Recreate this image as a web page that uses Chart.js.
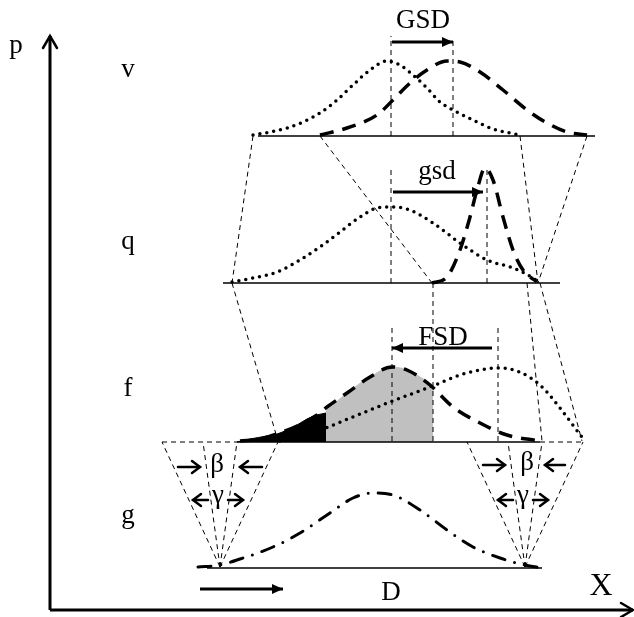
<!DOCTYPE html>
<html>
<head>
<meta charset="utf-8">
<script src="https://cdn.jsdelivr.net/npm/chart.js@4.4.0/dist/chart.umd.min.js"></script>
<style>
    html, body { margin: 0; padding: 0; background: #fff; }
    #my-chart { display: block; }
</style>
</head>
<body>
<canvas id="my-chart" width="634" height="617"></canvas>
<script>
// all values in data units: x along X, y = height above the X axis

// distribution curves
const vDotted = [[203,475],[220,478],[237,482],[253,488],[270,497],[287,510],[303,525],[320,540],[337,549],[350,545],[363,535],[377,522],[390,508],[403,500],[423,490],[443,481],[470,475]];
const vDashed = [[270,475],[297,482],[327,495],[343,510],[360,527],[377,540],[397,549],[410,548],[430,538],[453,520],[477,500],[497,487],[517,478],[537,475]];
const qDotted = [[182,328],[203,332],[227,338],[250,350],[270,363],[290,378],[310,393],[327,402],[340,403],[357,401],[383,387],[410,367],[437,350],[463,342],[483,332],[488,328]];
const qDashed = [[382,327],[397,333],[410,360],[420,393],[427,420],[435,442],[443,430],[453,393],[463,360],[473,340],[487,328]];
const fDashed = [[190,169],[210,171],[227,176],[247,184],[267,195],[277,203],[297,217],[320,233],[342,243],[357,240],[380,225],[403,203],[430,187],[457,175],[490,169]];
const fDotted = [[230,169],[250,173],[278,183],[310,196],[340,208],[380,223],[410,235],[430,240],[447,242],[467,239],[490,225],[510,202],[525,182],[535,169]];
const gDashDot = [[148,43],[170,45],[190,51],[223,63],[250,77],[277,95],[303,112],[323,117],[343,115],[370,100],[397,80],[423,63],[450,52],[475,45],[492,42]];

// shaded areas under f
const blackArea = [[187,168],[200,171],[217,174],[227,176],[237,180],[247,185],[257,191],[267,195],[276,197]];
const grayArea = [[276,199],[297,217],[320,233],[342,243],[357,240],[370,233],[383,225]];
const fLevel = 168;

// panel base lines
const baseLines = [
    [[208,474],[545,474]],
    [[173,327],[510,327]],
    [[187,168],[490,168]],
    [[157,42],[492,42]],
];

// thin dashed guide lines
const guideLines = [
    [[112,168],[187,168]], [[490,168],[535,168]],
    [[341,474],[341,574]], [[403,474],[403,570]],
    [[341,327],[341,442]], [[437,327],[437,443]],
    [[383,169],[383,327]], [[342,169],[342,285]], [[448,169],[448,285]],
    [[203,474],[182,327]], [[270,474],[382,327]], [[470,474],[488,327]], [[537,474],[488,327]],
    [[182,327],[228,169]], [[477,327],[492,169]], [[490,327],[532,169]],
    [[170,43],[112,168]], [[170,43],[153,168]], [[170,43],[187,168]], [[170,43],[228,168]],
    [[475,43],[417,168]], [[475,43],[458,168]], [[475,43],[492,168]], [[475,43],[533,168]],
];

// thick arrows (filled heads)
const bigArrows = [
    [[342,568],[403,568]],
    [[343,418],[433,418]],
    [[442,262],[342,262]],
    [[150,21],[233,21]],
];

// beta / gamma arrows (open heads)
const smallArrows = [
    [[128,143],[150,143]], [[212,143],[190,143]],
    [[158,110],[143,110]], [[178,110],[193,110]],
    [[433,145],[455,145]], [[515,145],[495,145]],
    [[463,110],[448,110]], [[483,110],[498,110]],
];

// main axes
const axes = [
    [[0,0],[0,574]],
    [[0,0],[583,0]],
];

// text labels
const labelTexts = ["p", "v", "q", "f", "g", "GSD", "gsd", "FSD", "β", "β", "γ", "γ", "D", "X"];
const labelX = [-34, 78, 78, 78, 78, 373, 387, 393, 167, 477, 168, 473, 341, 551];
const labelY = [557, 533, 361, 214, 87, 582, 431, 265, 138, 140, 107, 107, 10, 15];

const pts = (arr) => arr.map(([x, y]) => ({ x, y }));

const curveStyle = {
    borderColor: "#000",
    borderWidth: 3.5,
    pointRadius: 0,
    fill: false,
    cubicInterpolationMode: "monotone",
};
const dotted = { ...curveStyle, borderDash: [0, 7], borderCapStyle: "round" };
const dashed = { ...curveStyle, borderDash: [14, 9], borderCapStyle: "butt" };
const dashDot = { ...curveStyle, borderWidth: 3, borderDash: [13, 10, 0, 10], borderCapStyle: "round" };
const straight = { borderColor: "#000", pointRadius: 0, fill: false, tension: 0 };

const datasets = [];
datasets.push({ ...dotted, data: pts(vDotted) });
datasets.push({ ...dashed, data: pts(vDashed) });
datasets.push({ ...dotted, data: pts(qDotted) });
datasets.push({ ...dashed, data: pts(qDashed) });
datasets.push({ ...dashed, data: pts(fDashed) });
datasets.push({ ...dotted, data: pts(fDotted) });
datasets.push({ ...dashDot, data: pts(gDashDot) });

bigArrows.forEach((a) => datasets.push({ ...straight, borderWidth: 3, data: pts(a), head: "filled" }));
smallArrows.forEach((a) => datasets.push({ ...straight, borderWidth: 2.5, borderCapStyle: "round", data: pts(a), head: "open" }));
axes.forEach((a) => datasets.push({ ...straight, borderWidth: 3, data: pts(a), head: "axis" }));
baseLines.forEach((b) => datasets.push({ ...straight, borderWidth: 1.3, data: pts(b) }));
guideLines.forEach((g) => datasets.push({ ...straight, borderWidth: 1, borderDash: [5, 4], data: pts(g) }));

// fills are drawn underneath everything
datasets.push({ ...straight, order: 5, borderWidth: 1, borderColor: "#000", backgroundColor: "#000", fill: { value: fLevel }, cubicInterpolationMode: "monotone", data: pts(blackArea) });
datasets.push({ ...straight, order: 5, borderWidth: 1, borderColor: "#c0c0c0", backgroundColor: "#c0c0c0", fill: { value: fLevel }, cubicInterpolationMode: "monotone", data: pts(grayArea) });

const drawHead = (ctx, from, to, len, half, filled) => {
    const ang = Math.atan2(to.y - from.y, to.x - from.x);
    ctx.save();
    ctx.translate(to.x, to.y);
    ctx.rotate(ang);
    ctx.beginPath();
    ctx.moveTo(-len, -half);
    ctx.lineTo(0, 0);
    ctx.lineTo(-len, half);
    if (filled) {
        ctx.closePath();
        ctx.fill();
    } else {
        ctx.stroke();
    }
    ctx.restore();
};

const extras = {
    id: "extras",
    afterDatasetsDraw(chart) {
        const ctx = chart.ctx;
        ctx.save();
        ctx.fillStyle = "#000";
        ctx.strokeStyle = "#000";
        ctx.lineCap = "round";
        ctx.lineJoin = "miter";
        chart.data.datasets.forEach((ds, i) => {
            if (!ds.head) return;
            const els = chart.getDatasetMeta(i).data;
            const from = els[els.length - 2];
            const to = els[els.length - 1];
            if (ds.head === "filled") drawHead(ctx, from, to, 11, 5, true);
            if (ds.head === "open") { ctx.lineWidth = 2.5; drawHead(ctx, from, to, 8, 6, false); }
            if (ds.head === "axis") { ctx.lineWidth = 2.5; drawHead(ctx, from, to, 12, 7, false); }
        });

        const xs = chart.scales.x;
        const ys = chart.scales.y;
        ctx.textAlign = "center";
        ctx.textBaseline = "alphabetic";
        labelTexts.forEach((t, i) => {
            const size = t === "X" ? 32 : 27;
            ctx.font = `${size}px "Liberation Serif", "Times New Roman", serif`;
            ctx.fillText(t, xs.getPixelForValue(labelX[i]), ys.getPixelForValue(labelY[i]));
        });
        ctx.restore();
    },
};

const chart = new Chart(document.getElementById("my-chart").getContext("2d"), {
    type: "line",
    data: { datasets },
    options: {
        responsive: false,
        animation: false,
        devicePixelRatio: 1,
        layout: { padding: 0 },
        plugins: { legend: { display: false }, tooltip: { enabled: false } },
        scales: {
            x: { type: "linear", min: -50, max: 584, display: false },
            y: { type: "linear", min: -7, max: 610, display: false },
        },
    },
    plugins: [extras],
});
</script>
</body>
</html>
